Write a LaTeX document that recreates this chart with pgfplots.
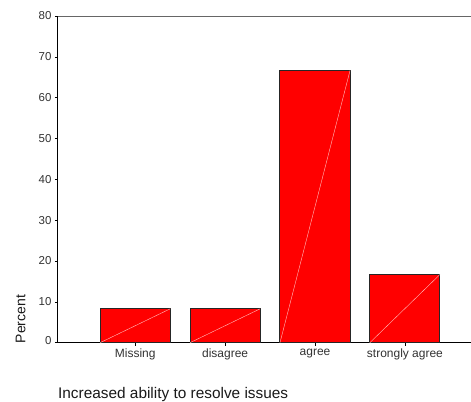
\documentclass[border=0pt]{standalone}
\usepackage{fontspec}
\setmainfont{Liberation Sans}
\usepackage{pgfplots}
\pgfplotsset{compat=1.18}
\definecolor{txt}{RGB}{50,50,50}
\begin{document}
\begin{tikzpicture}
\begin{axis}[
  name=ax,
  width=413pt, height=327pt, scale only axis,
  xmin=-0.86, xmax=3.73, ymin=0, ymax=80,
  axis lines=left, axis line style={-, black, line width=0.9pt},
  xtick={0,1,2,3},
  xticklabels={Missing, disagree, agree, strongly agree},
  ytick={0,10,...,80},
  yticklabels={\raisebox{4pt}{0},10,20,30,40,50,60,70,80},
  tick align=outside, major tick length=3pt,
  tick style={black, line width=0.6pt},
  /pgf/number format/assume math mode=true,
  yticklabel style={font=\fontsize{11.5}{13}\selectfont, text=txt},
  xticklabel style={font=\fontsize{12}{14}\selectfont, text=txt},
  clip=false,
]
\addplot[ybar, bar width=0.78, fill=red, draw=black!85, line width=1pt]
  coordinates {(0,8.3) (1,8.3) (2,66.7) (3,16.7)};
\addplot[white!75!red, line width=0.4pt] coordinates {(-0.39,0) (0.39,8.3)};
\addplot[white!75!red, line width=0.4pt] coordinates {(0.61,0) (1.39,8.3)};
\addplot[white!75!red, line width=0.4pt] coordinates {(1.61,0) (2.39,66.7)};
\addplot[white!75!red, line width=0.4pt] coordinates {(2.61,0) (3.39,16.7)};
\draw[black!60, line width=0.9pt] (rel axis cs:0,1) -- (rel axis cs:1,1);
\node[rotate=90, anchor=south west, text=black!90, font=\fontsize{14}{16}\selectfont, inner sep=0pt] at (rel axis cs:-0.078,-0.002) {Percent};
\node[anchor=west, text=black!90, font=\fontsize{15.4}{17}\selectfont, inner sep=0pt] at (rel axis cs:0,-0.159) {Increased ability to resolve issues};
\end{axis}
\path[use as bounding box] ([xshift=-58pt,yshift=-59pt]ax.south west) rectangle ([yshift=16pt]ax.north east);
\end{tikzpicture}
\end{document}
